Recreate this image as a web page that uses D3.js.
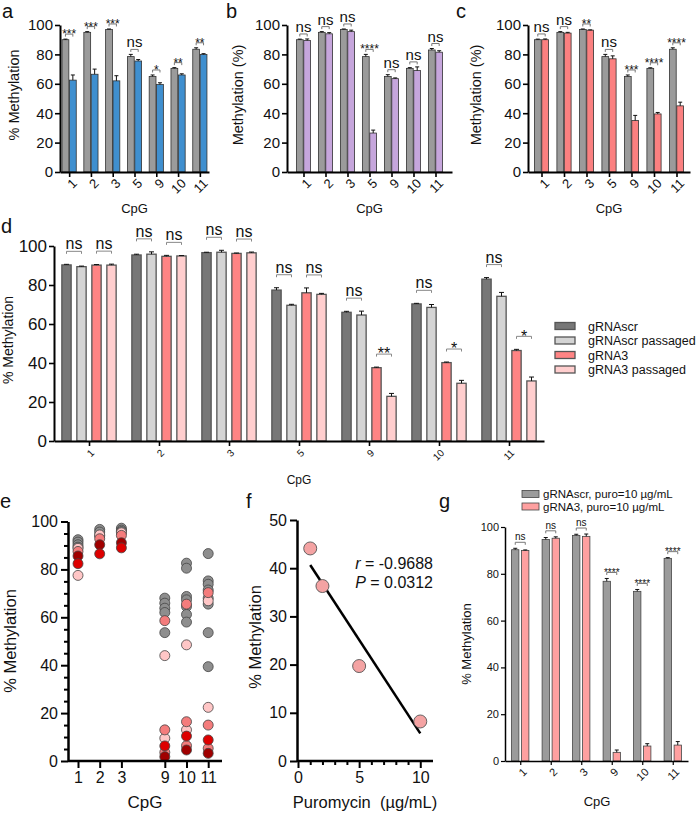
<!DOCTYPE html>
<html><head><meta charset="utf-8">
<script src="https://cdn.jsdelivr.net/npm/d3@7"></script>
<style>
body{margin:0;background:#fff}
svg{display:block}
text{font-family:'Liberation Sans',Arial,Helvetica,sans-serif;fill:#111}
</style>
</head><body>
<svg id="chart" width="697" height="815"></svg>
<script>
// ---------------- DATA ----------------
const cpgTop = ["1","2","3","5","9","10","11"];
const yTicks100 = [0,20,40,60,80,100];

const aGray    = [90, 95, 97, 78.5, 65, 70.5, 83.5];
const aGrayErr = [0.4, 0.5, 0.3, 1.5, 1, 0.5, 1];
const aBlue    = [62.5, 66.5, 62, 75.5, 59.5, 66, 80];
const aBlueErr = [3.5, 3.5, 3.5, 1, 1.2, 0.8, 0.5];
const aSig     = ["***","***","***","ns","*","**","**"];

const bGray      = [90, 95, 97, 78.5, 65, 70.5, 83];
const bGrayErr   = [0.4, 0.5, 0.3, 1.5, 1.2, 0.5, 1];
const bPurple    = [89.5, 94, 95.5, 26.5, 63.5, 69, 81.5];
const bPurpleErr = [1, 0.8, 1, 2, 0.5, 2.5, 1];
const bSig       = ["ns","ns","ns","****","ns","ns","ns"];

const cGray    = [90, 95, 97, 78.5, 65, 70.5, 83.5];
const cGrayErr = [0.4, 0.5, 0.3, 1.5, 1, 0.4, 1];
const cRed     = [90, 94.5, 96.5, 77, 35, 39.5, 45];
const cRedErr  = [0.5, 0.5, 0.2, 2, 3.5, 1, 2.5];
const cSig     = ["ns","ns","**","ns","***","****","****"];

const dSeries   = ["gRNAscr","gRNAscr passaged","gRNA3","gRNA3 passaged"];
const dScr      = [90.3, 95.4, 96.6, 77.4, 66, 70.3, 83];
const dScrErr   = [0.3, 0.4, 0.2, 1.2, 0.5, 0.3, 0.8];
const dScrP     = [89.4, 95.8, 96.8, 69.6, 64.6, 68.5, 74.2];
const dScrPErr  = [0.3, 1.2, 1, 0.5, 2, 1.5, 2];
const dG3       = [90.2, 94.7, 96.2, 76, 37.6, 40.2, 46.4];
const dG3Err    = [0.3, 0.5, 0.2, 2.5, 0.3, 0.3, 0.6];
const dG3P      = [90.2, 94.9, 96.5, 75.2, 22.9, 29.6, 30.8];
const dG3PErr   = [0.5, 0.2, 0.4, 0.5, 1.5, 1.5, 2];
const dSigScr   = ["ns","ns","ns","ns","ns","ns","ns"];
const dSigG3    = ["ns","ns","ns","ns","**","*","*"];

const eCpG = ["1","2","3","9","10","11"];
const eSlot = [0,1,2,4,5,6];
const eGrayPts  = [[92.4,91.4,90.3,89.3],[96.7,95.6,94.0],[97.2,96.4,95.8],[68,65.9,63.8,62,53.6],[82.6,80.5,68.7,67.3,64.5,61.2,58],[86.6,75.2,73.8,71.4,68,65.5,53.6,39.4]];
const eLightPts = [[77.5,88.8],[94.4],[95.3],[44,9.5],[48.5,13],[66.9,22.4]];
const eSalmonPts= [[87.5],[92.8],[94.2],[58.6,13,3.6],[65.5,16.4,6.4],[70.3,15,5.3]];
const eDarkPts  = [[85.6],[90.3],[91.1],[1.8],[4.6],[3.2]];
const eRedPts   = [[82.4],[86.5],[89],[6.3],[10.4],[8.8]];

const fPuro = [1, 2, 5, 10];
const fMeth = [44.1, 36.3, 19.7, 8.2];
const fR = "-0.9688", fP = "0.0312";

const gCpG = ["1","2","3","9","10","11"];
const gSeries = ["gRNAscr, puro=10 µg/mL","gRNA3, puro=10 µg/mL"];
const gScr    = [90.3, 94.7, 96.4, 76.8, 72.5, 86.6];
const gScrErr = [0.6, 0.8, 0.5, 1.2, 0.8, 0.3];
const gG3     = [90, 95.2, 96, 3.7, 6.4, 6.8];
const gG3Err  = [0.2, 0.6, 1, 1, 1, 1.5];
const gSig    = ["ns","ns","ns","****","****","****"];

// ---------------- DRAW ----------------
const svg = d3.select("#chart");
svg.append("rect").attr("width",697).attr("height",815).attr("fill","#fff");

function letter(t, x, y){ svg.append("text").attr("x",x).attr("y",y).attr("font-size",20).text(t); }
function vlabel(t, x, y, fs){
  svg.append("text").attr("transform",`translate(${x},${y}) rotate(-90)`)
    .attr("text-anchor","middle").attr("dy","0.35em").attr("font-size",fs).text(t);
}
function hlabel(t, x, y, fs){
  svg.append("text").attr("x",x).attr("y",y).attr("text-anchor","middle").attr("font-size",fs).text(t);
}
function styleAxis(ax, sw, fs){
  ax.select(".domain").attr("stroke","#000").attr("stroke-width",sw);
  ax.selectAll(".tick line").attr("stroke","#000").attr("stroke-width",sw*0.8);
  ax.selectAll(".tick text").attr("font-size",fs).attr("fill","#111")
    .style("font-family","'Liberation Sans',Arial,sans-serif");
}

function bracket(g, xa, xb, yb, txt, fsNs, fsStar, col){
  g.append("path").attr("d",`M${xa},${yb+2.5}V${yb}H${xb}V${yb+2.5}`)
    .attr("fill","none").attr("stroke",col).attr("stroke-width",1);
  const isNs = txt === "ns";
  g.append("text").attr("x",(xa+xb)/2).attr("y", isNs ? yb-2 : yb + fsStar*0.33)
    .attr("text-anchor","middle").attr("font-size", isNs ? fsNs : fsStar).text(txt);
}

function groupedBars(o){
  const g = svg.append("g");
  const x = d3.scalePoint().domain(o.cats).range([o.x0,o.x1]).padding(o.pad);
  const y = d3.scaleLinear().domain([0,100]).range([o.yb,o.yt]);
  o.series.forEach((s,si)=>{
    const off = o.offsets[si];
    g.selectAll(null).data(o.cats).join("rect")
      .attr("x", c => x(c)+off-o.bw/2).attr("y",(c,i)=>y(s.v[i]))
      .attr("width",o.bw).attr("height",(c,i)=>y(0)-y(s.v[i]))
      .attr("fill",s.fill).attr("stroke",o.stroke).attr("stroke-width",o.bsw);
    g.selectAll(null).data(o.cats).join("path")
      .attr("d",(c,i)=>{const cx=x(c)+off, t=y(s.v[i]+s.e[i]);
        return `M${cx},${y(s.v[i])}V${t}M${cx-o.cap},${t}H${cx+o.cap}`;})
      .attr("stroke","#111").attr("stroke-width",1).attr("fill","none");
  });
  o.sigs.forEach(sg=>{
    o.cats.forEach((c,i)=>{
      const A=o.series[sg.a], B=o.series[sg.b];
      const top=Math.max(A.v[i]+A.e[i], B.v[i]+B.e[i]);
      bracket(g, x(c)+o.offsets[sg.a], x(c)+o.offsets[sg.b], y(top)-o.sigOff, sg.t[i], o.fsNs, o.fsStar, o.bcol);
    });
  });
  const ay = g.append("g").attr("transform",`translate(${o.x0},0)`)
    .call(d3.axisLeft(y).tickValues(yTicks100).tickSize(o.tick).tickSizeOuter(0).tickPadding(2));
  styleAxis(ay, o.asw, o.fsY);
  const ax = g.append("g").attr("transform",`translate(0,${o.yb})`)
    .call(d3.axisBottom(x).tickSize(o.tick).tickSizeOuter(0));
  styleAxis(ax, o.asw, o.fsX);
  ax.selectAll(".tick text").attr("text-anchor","end").attr("x",0).attr("y",0).attr("dy","0.35em")
    .attr("transform",`translate(${o.lx},${o.ly}) rotate(-45)`);
  return {x,y};
}

// ---- a, b, c ----
const gray = "#9b9b9b";
const abc = [
  {x0:60,x1:209,pad:0.42, s2:aBlue, e2:aBlueErr, g1:aGray, e1:aGrayErr, fill:"#3f8fcf", sig:aSig, lab:"% Methylation", lx:14, L:"a", Lx:2},
  {x0:287,x1:452,pad:0.75, s2:bPurple, e2:bPurpleErr, g1:bGray, e1:bGrayErr, fill:"#c6a6dc", sig:bSig, lab:"Methylation (%)", lx:238, L:"b", Lx:226},
  {x0:528,x1:690,pad:0.6, s2:cRed, e2:cRedErr, g1:cGray, e1:cGrayErr, fill:"#fb8080", sig:cSig, lab:"Methylation (%)", lx:476, L:"c", Lx:456}
];
abc.forEach(p=>{
  groupedBars({cats:cpgTop, x0:p.x0, x1:p.x1, pad:p.pad, yb:172, yt:25,
    series:[{v:p.g1,e:p.e1,fill:gray},{v:p.s2,e:p.e2,fill:p.fill}],
    offsets:[-3.7,3.7], bw:6.8, stroke:"#333", bsw:0.8, cap:2,
    sigs:[{a:0,b:1,t:p.sig}], sigOff:5, fsNs:15, fsStar:12, bcol:"#777",
    tick:5, asw:2, fsY:15, fsX:13, lx:5, ly:9});
  vlabel(p.lab, p.lx, 95, 14.5);
  hlabel("CpG", (p.x0+p.x1)/2, 213, 13);
  letter(p.L, p.Lx, 18);
});

// ---- d ----
const dFill = ["#777777","#d4d4d4","#ff8484","#ffcece"];
groupedBars({cats:cpgTop, x0:54, x1:544, pad:0.5, yb:441, yt:246,
  series:[{v:dScr,e:dScrErr,fill:dFill[0]},{v:dScrP,e:dScrPErr,fill:dFill[1]},{v:dG3,e:dG3Err,fill:dFill[2]},{v:dG3P,e:dG3PErr,fill:dFill[3]}],
  offsets:[-22.5,-7.5,7.5,22.5], bw:9.3, stroke:"#555", bsw:1.3, cap:2.5,
  sigs:[{a:0,b:1,t:dSigScr},{a:2,b:3,t:dSigG3}], sigOff:13, fsNs:16, fsStar:16, bcol:"#888",
  tick:5, asw:2, fsY:17, fsX:10, lx:3, ly:10});
vlabel("% Methylation", 8, 340, 14);
hlabel("CpG", 299, 484, 12);
letter("d", 1, 233);
const dl = svg.append("g");
dSeries.forEach((s,i)=>{
  const yy = 326 + i*14.5;
  dl.append("rect").attr("x",555).attr("y",yy-3.5).attr("width",20).attr("height",7)
    .attr("fill",dFill[i]).attr("stroke","#555").attr("stroke-width",1.3);
  dl.append("text").attr("x",588).attr("y",yy+4.5).attr("font-size",12.5).attr("fill","#222").text(s);
});

// ---- e ----
{
  const g = svg.append("g");
  const x = d3.scaleLinear().domain([0,6]).range([78,208.2]);
  const y = d3.scaleLinear().domain([0,100]).range([761,521.5]);
  const layers = [
    {pts:eGrayPts, fill:"#8e8e8e"},
    {pts:eLightPts, fill:"#ffc6c6"},
    {pts:eSalmonPts, fill:"#f47c7c"},
    {pts:eDarkPts, fill:"#a00000"},
    {pts:eRedPts, fill:"#dd0000"}
  ];
  layers.forEach(L=>{
    const flat = [];
    L.pts.forEach((arr,ci)=>arr.forEach(v=>flat.push({s:eSlot[ci],v})));
    g.selectAll(null).data(flat).join("circle")
      .attr("cx",d=>x(d.s)).attr("cy",d=>y(d.v)).attr("r",5)
      .attr("fill",L.fill).attr("stroke","#444").attr("stroke-width",0.8);
  });
  const ay = g.append("g").attr("transform","translate(68,0)")
    .call(d3.axisLeft(y).tickValues(yTicks100).tickSize(7).tickSizeOuter(0).tickPadding(3));
  styleAxis(ay, 2.5, 16);
  g.append("g").attr("transform","translate(68,0)")
    .call(d3.axisLeft(y).tickValues(d3.range(0,101,5).filter(v=>v%20)).tickSize(4).tickFormat(""))
    .call(a=>{a.select(".domain").remove(); a.selectAll("line").attr("stroke","#000").attr("stroke-width",2);});
  const ax = g.append("g").attr("transform","translate(0,761)")
    .call(d3.axisBottom(x).tickValues(eSlot).tickFormat((d,i)=>eCpG[i]).tickSize(7).tickSizeOuter(0).tickPadding(4));
  ax.select(".domain").attr("d","M68,0H222");
  styleAxis(ax, 2.5, 16);
  vlabel("% Methylation", 10, 641, 16.5);
  hlabel("CpG", 145, 808, 17);
  letter("e", 0, 508);
}

// ---- f ----
{
  const g = svg.append("g");
  const x = d3.scaleLinear().domain([0,11]).range([298,432.5]);
  const y = d3.scaleLinear().domain([0,50]).range([761,520]);
  const mx = d3.mean(fPuro), my = d3.mean(fMeth);
  const slope = d3.sum(fPuro,(v,i)=>(v-mx)*(fMeth[i]-my))/d3.sum(fPuro,v=>(v-mx)*(v-mx));
  const icpt = my - slope*mx;
  const x1 = d3.min(fPuro), x2 = d3.max(fPuro);
  g.append("line").attr("x1",x(x1)).attr("y1",y(icpt+slope*x1)).attr("x2",x(x2)).attr("y2",y(icpt+slope*x2))
    .attr("stroke","#000").attr("stroke-width",2.5);
  g.selectAll(null).data(fPuro).join("circle")
    .attr("cx",d=>x(d)).attr("cy",(d,i)=>y(fMeth[i])).attr("r",6.5)
    .attr("fill","#f4a3a3").attr("stroke","#555").attr("stroke-width",0.9);
  const ay = g.append("g").attr("transform","translate(297,0)")
    .call(d3.axisLeft(y).tickValues([0,10,20,30,40,50]).tickSize(7).tickSizeOuter(0).tickPadding(3));
  styleAxis(ay, 2.5, 16);
  const ax = g.append("g").attr("transform","translate(0,761)")
    .call(d3.axisBottom(x).tickValues([0,5,10]).tickSize(7).tickSizeOuter(0).tickPadding(4));
  ax.select(".domain").attr("d","M297,0H433");
  styleAxis(ax, 2.5, 16);
  g.append("g").attr("transform","translate(0,761)")
    .call(d3.axisBottom(x).tickValues(d3.range(1,11).filter(v=>v%5)).tickSize(4).tickFormat(""))
    .call(a=>{a.select(".domain").remove(); a.selectAll("line").attr("stroke","#000").attr("stroke-width",2);});
  const t1 = g.append("text").attr("x",433).attr("y",569).attr("text-anchor","end").attr("font-size",16);
  t1.append("tspan").attr("font-style","italic").text("r");
  t1.append("tspan").text(" = " + fR);
  const t2 = g.append("text").attr("x",433).attr("y",588).attr("text-anchor","end").attr("font-size",16);
  t2.append("tspan").attr("font-style","italic").text("P");
  t2.append("tspan").text(" = " + fP);
  vlabel("% Methylation", 255, 637, 16.5);
  hlabel("Puromycin\u00a0\u00a0(µg/mL)", 365, 808, 16.5);
  letter("f", 246, 508);
}

// ---- g ----
{
  const gFill = [gray, "#ffa0a0"];
  groupedBars({cats:gCpG, x0:505, x1:688, pad:0.5, yb:761, yt:527,
    series:[{v:gScr,e:gScrErr,fill:gFill[0]},{v:gG3,e:gG3Err,fill:gFill[1]}],
    offsets:[-5,5], bw:7.3, stroke:"#444", bsw:0.8, cap:2,
    sigs:[{a:0,b:1,t:gSig}], sigOff:6, fsNs:10, fsStar:10, bcol:"#777",
    tick:4, asw:1.5, fsY:11, fsX:11, lx:4, ly:9});
  vlabel("% Methylation", 466, 644, 13);
  hlabel("CpG", 597, 806, 13);
  letter("g", 439, 508);
  const gl = svg.append("g");
  gSeries.forEach((s,i)=>{
    const yy = 494 + i*12.5;
    gl.append("rect").attr("x",522).attr("y",yy-3.5).attr("width",17).attr("height",7)
      .attr("fill",gFill[i]).attr("stroke","#444").attr("stroke-width",0.8);
    gl.append("text").attr("x",543).attr("y",yy+4).attr("font-size",11.5).attr("fill","#222").text(s);
  });
}
</script>
</body></html>
